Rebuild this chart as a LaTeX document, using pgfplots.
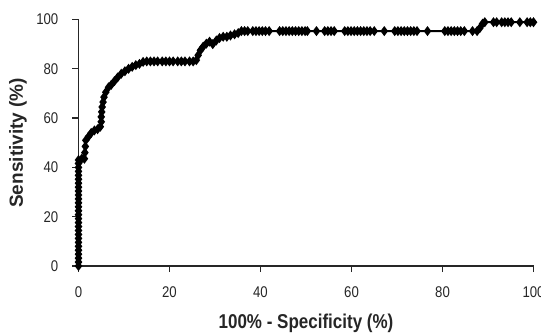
\documentclass[border=0pt]{standalone}
\usepackage{pgfplots}
\pgfplotsset{compat=1.18}
\usepackage{fontspec}
\setmainfont{Liberation Sans}
\newfontfamily\narrowfont{Liberation Sans}[FakeStretch=0.85]
\begin{document}
\begin{tikzpicture}
\begin{axis}[
  scale only axis,
  width=455bp, height=246.5bp,
  xmin=0, xmax=100, ymin=0, ymax=100,
  axis lines=left,
  axis line style={-, line width=1.2bp, black!85},
  xtick={0,20,40,60,80,100},
  ytick={0,20,40,60,80,100},
  tick align=outside,
  major tick length=6bp,
  tick style={line width=1.2bp, black!85},
  /pgf/number format/assume math mode=true,
  tick label style={font=\narrowfont\fontsize{15.5bp}{17bp}\selectfont, black!85},
  xticklabel style={anchor=center, yshift=-20.5bp},
  yticklabel style={anchor=east, inner sep=0pt, xshift=-14bp},
  xlabel={100\% - Specificity (\%)},
  ylabel={Sensitivity (\%)},
  every axis x label/.style={at={(axis description cs:0.5,-0.2333)}, anchor=center, font=\narrowfont\fontsize{20bp}{22bp}\selectfont\bfseries, black!85},
  every axis y label/.style={at={(axis description cs:-0.1330,0.5)}, anchor=center, rotate=90, font=\fontsize{19bp}{21bp}\selectfont\bfseries, black!85},
  clip=false,
]
\addplot[black, line width=2bp, mark=diamond*, mark size=3.4bp, mark options={solid}] coordinates {
(0,0)(0,1.6)(0,3.2)(0,4.8)(0,6.4)(0,8)(0,9.6)(0,11.2)(0,12.8)(0,14.4)(0,16)(0,17.6)(0,19.2)(0,20.8)(0,22.4)(0,24)(0,25.6)(0,27.2)(0,28.8)(0,30.4)(0,32)(0,33.6)(0,35.2)(0,36.8)(0,38.4)(0,40)(0,41.6)(0,43)
(0.7,43.5)(1.3,43.5)(1.4,46)(1.5,48.5)(1.6,51)(2.2,52.5)(2.8,54)(3.5,55)(4.2,55.5)(4.8,56.5)(5,58.5)(5,60.5)(5.1,62.5)(5.2,64.5)(5.4,66.5)(5.6,68.5)(6,70.5)(6.6,72.5)(7.2,73.5)(7.9,75)(8.6,76.5)(9.4,78)(10.2,79)(11,80)(11.8,80.8)(12.6,81.5)(13.4,82)(14.2,82.8)
(15,83)(15.8,83)(16.6,83)(17.4,83)(18.4,83)(19.2,83)(20,83)(20.8,83)(21.8,83)(22.6,83)(23.4,83)(24.4,83)(25.2,83)(25.9,83.5)(26.3,85.5)(26.8,87.5)(27.4,89)(28.1,90.2)(28.8,91)(29.5,90)(30.3,91.5)(31,92.5)(31.8,93)(32.6,93)(33.4,93.5)(34.3,94)(35.1,94.5)(35.8,95.3)(36.5,95.3)(37.2,95.3)
(38.3,95.3)(39,95.3)(39.7,95.3)(40.4,95.3)(41.1,95.3)(41.9,95.3)
(44.2,95.3)(44.9,95.3)(45.6,95.3)(46.3,95.3)(47,95.3)(47.7,95.3)(48.4,95.3)(49.1,95.3)(49.8,95.3)(50.3,95.3)
(52.3,95.3)
(54.1,95.3)(54.8,95.3)(55.5,95.3)(56.2,95.3)
(58.5,95.3)(59.2,95.3)(59.9,95.3)(60.6,95.3)(61.3,95.3)(62,95.3)(62.7,95.3)(63.4,95.3)(64.1,95.3)(65,95.3)
(67.2,95.3)
(69.5,95.3)(70.2,95.3)(70.9,95.3)(71.6,95.3)(72.3,95.3)(73,95.3)(73.7,95.3)(74.4,95.3)
(76.7,95.3)
(80.5,95.3)(81.2,95.3)(81.9,95.3)(82.6,95.3)(83.3,95.3)(84,95.3)(84.8,95.3)
(86.6,95.3)(87.6,95.3)
(88.2,96.5)(88.8,98.3)(89.3,98.9)
(91.2,98.9)(91.9,98.9)(93,98.9)(93.7,98.9)(94.4,98.9)(95.1,98.9)
(97,98.9)(98.6,98.9)(99.3,98.9)(100,98.9)
};
\end{axis}
\pgfresetboundingbox
\path[use as bounding box] ([shift={(-78.5bp,-70bp)}]current axis.south west) rectangle ([shift={(7.5bp,19.5bp)}]current axis.north east);
\end{tikzpicture}
\end{document}
